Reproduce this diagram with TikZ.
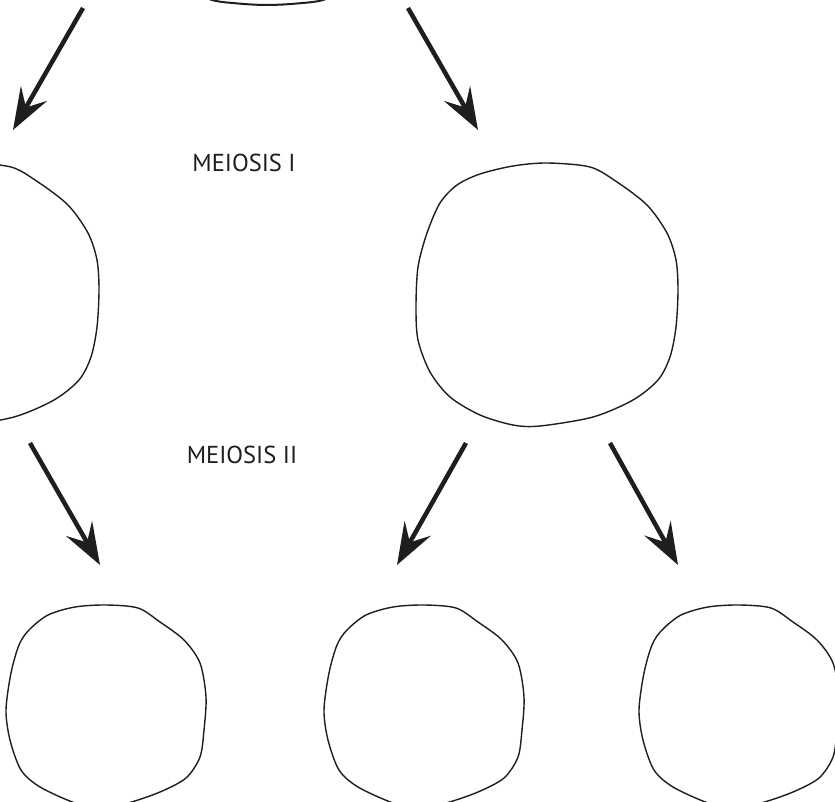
\documentclass[tikz,border=0pt]{standalone}
\usepackage{fontspec}
\setmainfont{PT Sans}
\usetikzlibrary{arrows.meta}
\definecolor{ink}{HTML}{1E1E1E}
\tikzset{
  cellline/.style={draw=ink, line width=1.4pt},
  bigarrow/.style={draw=ink, line width=4.5pt, -{Stealth[length=42pt, width=30pt, inset=16pt]}},
  phaselabel/.style={text=ink, font=\fontsize{24.5}{26}\selectfont, inner sep=0pt}
}
\begin{document}
\begin{tikzpicture}[x=1pt,y=-1pt]
\useasboundingbox (0,0) rectangle (835,802);
\clip (0,0) rectangle (835,802);
\fill[white] (0,0) rectangle (835,802);

% top cell (only its lower edge is visible)
\draw[cellline, line width=2pt] plot[smooth cycle] coordinates {
  (267,5) (298,3.4) (326,-1) (360,-20) (380,-60) (267,-90) (155,-60) (175,-20) (209,-1) (237,3.4)};

% middle cells
\draw[cellline] plot[smooth cycle] coordinates {
  (547,163) (590,167) (617,182) (647,205) (667,233) (676,260) (678,290) (676,327)
  (670,357) (658,380) (633,400) (593,417) (540,426) (513,425) (480,415) (450,397)
  (430,372) (418,340) (416,307) (418,267) (427,233) (440,203) (457,185) (480,174) (513,166)};
\draw[cellline, shift={(-579,0)}] plot[smooth cycle] coordinates {
  (547,163) (590,167) (617,182) (647,205) (667,233) (676,260) (678,290) (676,327)
  (670,357) (658,380) (633,400) (593,417) (540,426) (513,425) (480,415) (450,397)
  (430,372) (418,340) (416,307) (418,267) (427,233) (440,203) (457,185) (480,174) (513,166)};

% bottom cells
\foreach \dx in {0,318,633}{
\draw[cellline, shift={(\dx,0)}] plot[smooth cycle] coordinates {
  (106,605) (138,608) (160,622) (184,640) (200,663) (206,697) (204,730) (200,757)
  (186,778) (160,792) (128,803) (100,808) (75,803) (40,787) (21,770) (10,740)
  (6,710) (11,673) (19,645) (29,630) (48,615) (75,607)};
}

% labels
\node[phaselabel] (m1) at (244,163) {MEIOSIS I};
\node[phaselabel] (m2) at (242,455) {MEIOSIS II};

% arrows
\coordinate (a1s) at (83,8);   \coordinate (a1e) at (13,130);
\coordinate (a2s) at (408,8);  \coordinate (a2e) at (478,130);
\coordinate (a3s) at (30,443); \coordinate (a3e) at (100,565);
\coordinate (a4s) at (466,443);\coordinate (a4e) at (397,565);
\coordinate (a5s) at (610,443);\coordinate (a5e) at (678,565);
\draw[bigarrow] (a1s) -- (a1e);
\draw[bigarrow] (a2s) -- (a2e);
\draw[bigarrow] (a3s) -- (a3e);
\draw[bigarrow] (a4s) -- (a4e);
\draw[bigarrow] (a5s) -- (a5e);
\end{tikzpicture}
\end{document}
